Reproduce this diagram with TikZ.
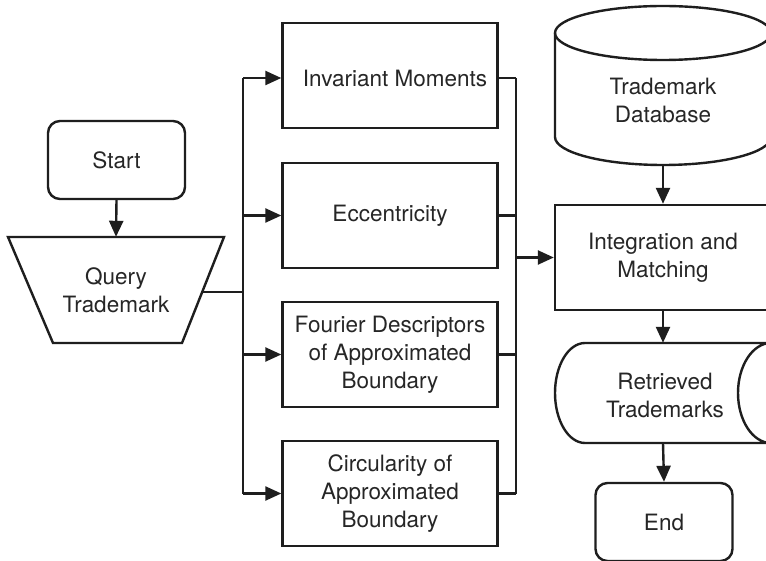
\documentclass[tikz,border=0pt]{standalone}
\usepackage{fontspec}
\setmainfont{TeX Gyre Heros}
\usetikzlibrary{arrows.meta}
\definecolor{ink}{HTML}{1E1E1E}
\definecolor{txt}{HTML}{262626}
\tikzset{
  line/.style={draw=ink, line width=2.4pt},
  arr/.style={line, -{Triangle[length=16pt,width=14pt]}},
  lbl/.style={text=txt, align=center, font=\fontsize{22.5}{28}\selectfont, inner sep=0pt},
  procbox/.style={line, lbl, minimum width=215pt, minimum height=105pt},
  termbox/.style={line, lbl, rounded corners=12pt, minimum width=137pt, minimum height=78pt},
}
\begin{document}
\begin{tikzpicture}[x=1pt,y=-1pt]
\useasboundingbox (0,0) rectangle (766,561);
\clip (0,0) rectangle (766,561);
\fill[white] (0,0) rectangle (766,561);

% start and query input
\node[termbox] (start) at (116.5,160) {Start};
\node[lbl, minimum height=106pt] (query) at (116,290) {Query\\Trademark};
\draw[line, line join=miter] (8,237) -- (224,237) -- (182,343) -- (53,343) -- cycle;
\coordinate (qside) at (202,292);

% feature extraction boxes
\node[procbox] (inv) at (390,75.5) {};
\node[lbl] (invtext) at (395,78) {Invariant Moments};
\node[procbox] (ecc) at (390,215.5) {Eccentricity};
\node[procbox] (four) at (390,354.5) {Fourier Descriptors\\of Approximated\\Boundary};
\node[procbox] (circ) at (390,493.5) {Circularity of\\Approximated\\Boundary};

% database cylinder
\node[lbl, minimum width=216pt, minimum height=158pt] (db) at (663,86) {};
\node[lbl] (dbtext) at (663,100) {Trademark\\Database};
\draw[line] (663,33) ellipse [x radius=108, y radius=27];
\draw[line] (555,33) -- (555,137) arc [start angle=180, end angle=360, x radius=108, y radius=-28] -- (771,33);
\coordinate (dbbot) at (663,165);

% matching, output, end
\node[procbox, minimum width=216pt] (integ) at (663,257.5) {Integration and\\Matching};
\node[lbl, minimum width=216pt, minimum height=100pt] (ret) at (663,393) {};
\node[lbl] (rettext) at (665,395) {Retrieved\\Trademarks};
\draw[line] (585,343) -- (771,343)
  arc [start angle=90, end angle=270, x radius=33, y radius=-50]
  -- (585,443)
  arc [start angle=270, end angle=90, x radius=30, y radius=-50];
\node[termbox] (endn) at (664,522) {End};

% connectors
\draw[arr] (start.south) -- (query.north);
\coordinate (lbus) at (243,0);
\coordinate (rbus) at (516,0);
\draw[line] (qside) -- (lbus |- qside);
\draw[line] (lbus |- invtext) -- (lbus |- circ.west);
\draw[arr] (lbus |- invtext) -- (inv.west |- invtext);
\draw[line] (inv.east |- invtext) -- (rbus |- invtext);
\foreach \n in {ecc,four,circ}{
  \draw[arr] (lbus |- \n.west) -- (\n.west);
  \draw[line] (\n.east) -- (rbus |- \n.east);
}
\draw[line] (rbus |- invtext) -- (rbus |- circ.east);
\draw[arr] (rbus |- integ.west) -- (integ.west);
\draw[arr] (dbbot) -- (integ.north);
\draw[arr] (integ.south) -- (ret.north);
\draw[arr] (ret.south) -- (endn.north);
\end{tikzpicture}
\end{document}
